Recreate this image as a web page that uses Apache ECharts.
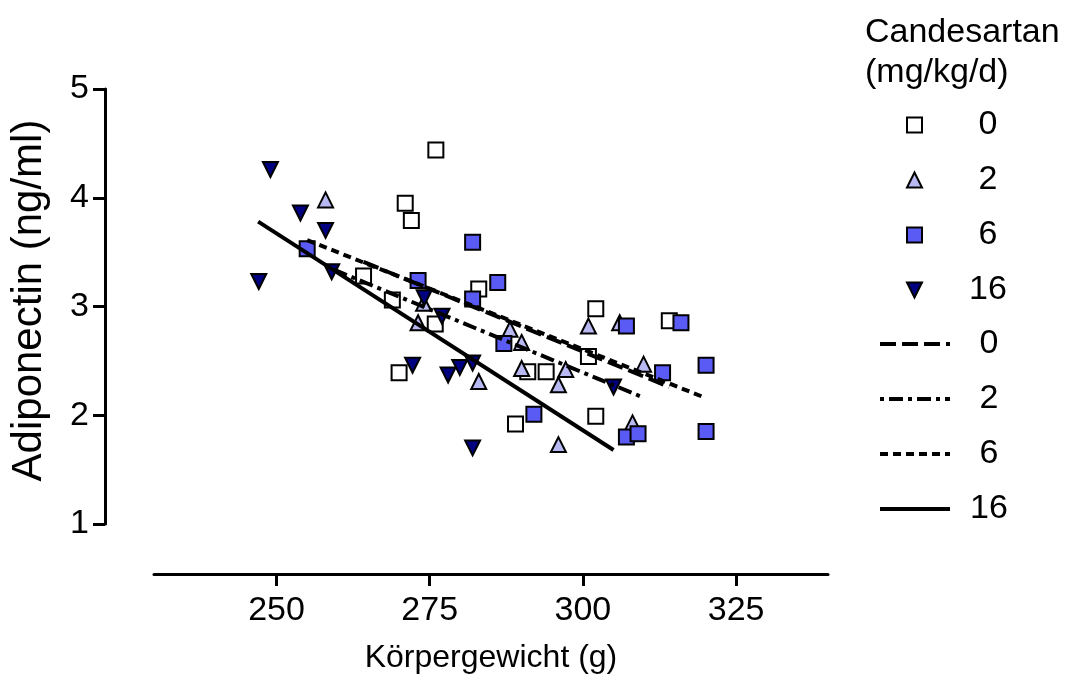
<!DOCTYPE html>
<html>
<head>
<meta charset="utf-8">
<script src="https://cdn.jsdelivr.net/npm/echarts@6/dist/echarts.min.js"></script>
<style>
html, body { margin: 0; padding: 0; background: #fff; }
#chart { width: 1066px; height: 688px; }
</style>
</head>
<body>
<div id="chart"></div>
<script>
// Körpergewicht (g) und Adiponectin (ng/ml) je Candesartan-Dosis
const weight0 = [276.0, 271.0, 272.0, 264.2, 283.0, 268.9, 275.9, 270.0, 302.1, 314.1, 300.9, 291.0, 294.0, 289.0, 302.1];
const adipo0  = [4.44, 3.95, 3.79, 3.28, 3.16, 3.06, 2.84, 2.39, 2.98, 2.87, 2.54, 2.40, 2.40, 1.92, 1.99];

const weight2 = [258.0, 273.1, 274.0, 283.0, 288.1, 290.0, 290.0, 297.2, 296.0, 296.0, 300.9, 306.0, 309.9, 308.1];
const adipo2  = [3.98, 2.85, 3.03, 2.31, 2.79, 2.67, 2.43, 2.42, 2.28, 1.73, 2.82, 2.85, 2.47, 1.93];

const weight6 = [255.0, 273.1, 282.0, 282.0, 286.1, 287.1, 292.0, 307.1, 316.0, 313.0, 320.1, 320.1, 307.1, 309.0];
const adipo6  = [3.53, 3.24, 3.59, 3.07, 3.22, 2.66, 2.01, 2.82, 2.85, 2.39, 2.46, 1.85, 1.80, 1.83];

const weight16 = [249.0, 253.9, 258.0, 247.1, 259.0, 274.1, 277.0, 272.2, 278.0, 279.9, 282.0, 282.0, 305.0];
const adipo16  = [4.26, 3.86, 3.70, 3.23, 3.32, 3.08, 2.91, 2.46, 2.37, 2.44, 2.48, 1.70, 2.26];

// Regressionsgeraden (Anfang/Ende)
const fitX0 = [264.2, 314.1],  fitY0 = [3.41, 2.26];
const fitX2 = [258.0, 310.0],  fitY2 = [3.37, 2.16];
const fitX6 = [255.0, 320.0],  fitY6 = [3.61, 2.16];
const fitX16 = [247.0, 305.0], fitY16 = [3.78, 1.68];

const doses = ['0', '2', '6', '16'];
const xTicks = [250, 275, 300, 325];

const FONT = 'Liberation Sans, Arial, sans-serif';
const DOWN_TRIANGLE = 'path://M0,0 L10,0 L5,10 Z';

function pairs(xs, ys) {
    return xs.map((x, i) => [x, ys[i]]);
}

function scatter(name, xs, ys, symbol, fill, rotate) {
    return {
        name: name,
        type: 'scatter',
        data: pairs(xs, ys),
        symbol: symbol,
        symbolSize: 15,
        symbolRotate: rotate || 0,
        itemStyle: { color: fill, borderColor: '#000', borderWidth: 2, opacity: 1 },
        z: 2
    };
}

function fit(name, xs, ys, dash) {
    return {
        name: name,
        type: 'line',
        data: pairs(xs, ys),
        symbol: 'none',
        silent: true,
        itemStyle: { color: '#000' },
        lineStyle: { color: '#000', width: 4, type: dash },
        z: 3
    };
}

const chart = echarts.init(document.getElementById('chart'));

chart.setOption({
    animation: false,
    backgroundColor: '#fff',
    title: {
        text: 'Candesartan\n(mg/kg/d)',
        left: 865,
        top: 13,
        padding: 0,
        textStyle: { fontFamily: FONT, fontSize: 34, fontWeight: 'normal', color: '#000', lineHeight: 40 }
    },
    legend: [{
        orient: 'vertical',
        left: 906,
        top: 108,
        padding: 0,
        itemWidth: 15,
        itemHeight: 15,
        itemGap: 21,
        selectedMode: false,
        data: doses.map(d => d === '16' ? { name: d, icon: DOWN_TRIANGLE } : d),
        formatter: n => '{t|' + n + '}',
        textStyle: {
            fontFamily: FONT, fontSize: 34, color: '#000',
            rich: { t: { width: 122, align: 'center', fontSize: 34, lineHeight: 30, fontFamily: FONT } }
        }
    }, {
        orient: 'vertical',
        left: 878,
        top: 327,
        padding: 0,
        itemWidth: 70,
        itemHeight: 14,
        itemGap: 21,
        selectedMode: false,
        data: doses.map(d => d + ' Fit'),
        itemStyle: { opacity: 0 },
        lineStyle: { width: 4, color: '#000' },
        formatter: n => '{t|' + n.split(' ')[0] + '}',
        textStyle: {
            fontFamily: FONT, fontSize: 34, color: '#000',
            rich: { t: { width: 68, align: 'center', fontSize: 34, lineHeight: 30, fontFamily: FONT } }
        }
    }],
    grid: { left: 152, right: 238, top: 89, bottom: 164 },
    xAxis: {
        type: 'value',
        min: 230,
        max: 340,
        offset: 50,
        name: 'Körpergewicht (g)',
        nameLocation: 'middle',
        nameGap: 68,
        nameTextStyle: { fontFamily: FONT, fontSize: 32, color: '#000' },
        axisLine: { onZero: false, lineStyle: { color: '#000', width: 3 } },
        axisTick: { length: 12, customValues: xTicks, lineStyle: { color: '#000', width: 3 } },
        axisLabel: { customValues: xTicks, margin: 20, fontFamily: FONT, fontSize: 34, color: '#000' },
        splitLine: { show: false }
    },
    yAxis: {
        type: 'value',
        min: 1,
        max: 5,
        interval: 1,
        offset: 49,
        name: 'Adiponectin (ng/ml)',
        nameLocation: 'middle',
        nameRotate: 90,
        nameGap: 55,
        nameTextStyle: { fontFamily: FONT, fontSize: 42, color: '#000', padding: [0, 0, 0, 12] },
        axisLine: { onZero: false, lineStyle: { color: '#000', width: 3 } },
        axisTick: { length: 12, lineStyle: { color: '#000', width: 3 } },
        axisLabel: { margin: 16, fontFamily: FONT, fontSize: 34, color: '#000' },
        splitLine: { show: false }
    },
    series: [
        scatter('0', weight0, adipo0, 'rect', '#ffffff'),
        scatter('2', weight2, adipo2, 'triangle', '#b8b8f2'),
        scatter('6', weight6, adipo6, 'rect', '#5a5af5'),
        scatter('16', weight16, adipo16, 'triangle', '#000080', 180),
        fit('0 Fit', fitX0, fitY0, [16, 6]),
        fit('2 Fit', fitX2, fitY2, [4, 5, 14, 5]),
        fit('6 Fit', fitX6, fitY6, [8, 5]),
        fit('16 Fit', fitX16, fitY16, 'solid')
    ]
});
</script>
</body>
</html>
